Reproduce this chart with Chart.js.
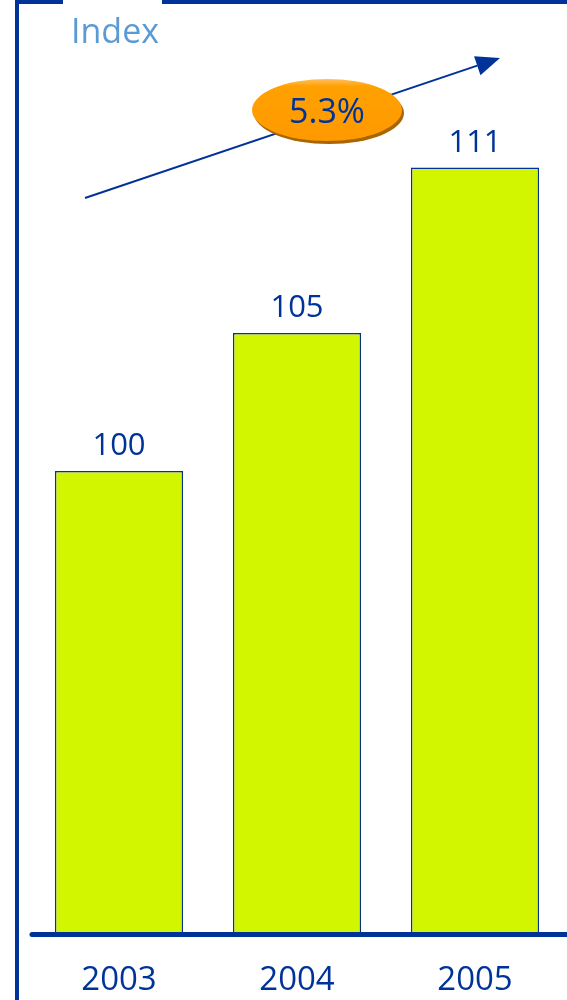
<!DOCTYPE html>
<html>
<head>
<meta charset="utf-8">
<script src="https://cdn.jsdelivr.net/npm/chart.js@4/dist/chart.umd.min.js"></script>
<style>
html,body{margin:0;padding:0;background:#fff;}
#c{display:block;}
</style>
</head>
<body>
<canvas id="c" width="567" height="1000" style="width:567px;height:1000px"></canvas>
<script>
// ---- data ----
const years = ['2003', '2004', '2005'];
const indexValues = [100, 105, 111];
const growthLabel = '5.3%';
const unitLabel = 'Index';
const yMin = 83.2;
const yMax = 114.9;

const BLUE = '#003399';
const FONT = '"Open Sans", "DejaVu Sans", sans-serif';

const decor = {
  id: 'decor',
  beforeDraw(chart) {
    const ctx = chart.ctx;
    ctx.save();
    ctx.strokeStyle = BLUE;
    ctx.lineWidth = 4;
    ctx.beginPath();
    ctx.moveTo(17, 1000); ctx.lineTo(17, 2);
    ctx.lineTo(63, 2);
    ctx.moveTo(162, 2); ctx.lineTo(567, 2);
    ctx.stroke();
    ctx.fillStyle = '#5b9bd5';
    ctx.font = '34px ' + FONT;
    ctx.textBaseline = 'alphabetic';
    ctx.textAlign = 'left';
    ctx.fillText(unitLabel, 71, 43);
    ctx.restore();
  },
  afterDatasetsDraw(chart) {
    const ctx = chart.ctx;
    const area = chart.chartArea;
    ctx.save();
    ctx.strokeStyle = BLUE;
    ctx.lineWidth = 5;
    ctx.lineCap = 'round';
    ctx.beginPath();
    ctx.moveTo(area.left + 2, area.bottom);
    ctx.lineTo(chart.width + 5, area.bottom);
    ctx.stroke();
    const meta = chart.getDatasetMeta(0);
    ctx.fillStyle = BLUE;
    ctx.font = '31px ' + FONT;
    ctx.textAlign = 'center';
    ctx.textBaseline = 'alphabetic';
    meta.data.forEach((bar, i) => {
      ctx.fillText(String(indexValues[i]), bar.x, bar.y - 16);
    });
    const x0 = 85, y0 = 198, x1 = 500, y1 = 58;
    const ang = Math.atan2(y1 - y0, x1 - x0);
    const hl = 24, hw = 10;
    const bx = x1 - hl * Math.cos(ang), by = y1 - hl * Math.sin(ang);
    ctx.strokeStyle = BLUE;
    ctx.lineWidth = 2;
    ctx.lineCap = 'butt';
    ctx.beginPath();
    ctx.moveTo(x0, y0); ctx.lineTo(bx, by);
    ctx.stroke();
    ctx.fillStyle = BLUE;
    ctx.beginPath();
    ctx.moveTo(x1, y1);
    ctx.lineTo(bx + hw * Math.sin(ang), by - hw * Math.cos(ang));
    ctx.lineTo(bx - hw * Math.sin(ang), by + hw * Math.cos(ang));
    ctx.closePath();
    ctx.fill();
    const cx = 327, cy = 110, rx = 75, ry = 31;
    ctx.fillStyle = '#a86500';
    ctx.beginPath();
    ctx.ellipse(cx + 2, cy + 3, rx, ry, 0, 0, Math.PI * 2);
    ctx.fill();
    const g = ctx.createLinearGradient(0, cy - ry, 0, cy + ry);
    g.addColorStop(0, '#ffc060');
    g.addColorStop(0.12, '#ffa100');
    g.addColorStop(1, '#ff9900');
    ctx.fillStyle = g;
    ctx.beginPath();
    ctx.ellipse(cx, cy, rx, ry, 0, 0, Math.PI * 2);
    ctx.fill();
    ctx.fillStyle = BLUE;
    ctx.font = '34px ' + FONT;
    ctx.textAlign = 'center';
    ctx.textBaseline = 'alphabetic';
    ctx.fillText(growthLabel, cx, cy + 13);
    ctx.restore();
  }
};

new Chart(document.getElementById('c'), {
  type: 'bar',
  data: {
    labels: years,
    datasets: [{
      data: indexValues,
      backgroundColor: '#d2f500',
      borderColor: BLUE,
      borderWidth: 1.5,
      barPercentage: 0.72,
      categoryPercentage: 1.0
    }]
  },
  options: {
    responsive: false,
    animation: false,
    devicePixelRatio: 1,
    layout: { padding: { top: 60, left: 30, right: 3, bottom: -26 } },
    plugins: { legend: { display: false }, tooltip: { enabled: false } },
    scales: {
      y: { display: false, min: yMin, max: yMax },
      x: {
        grid: { display: false, drawTicks: false },
        border: { display: false },
        ticks: { color: BLUE, font: { family: FONT, size: 33, lineHeight: 1.2 }, padding: 26 }
      }
    }
  },
  plugins: [decor]
});
</script>
</body>
</html>
